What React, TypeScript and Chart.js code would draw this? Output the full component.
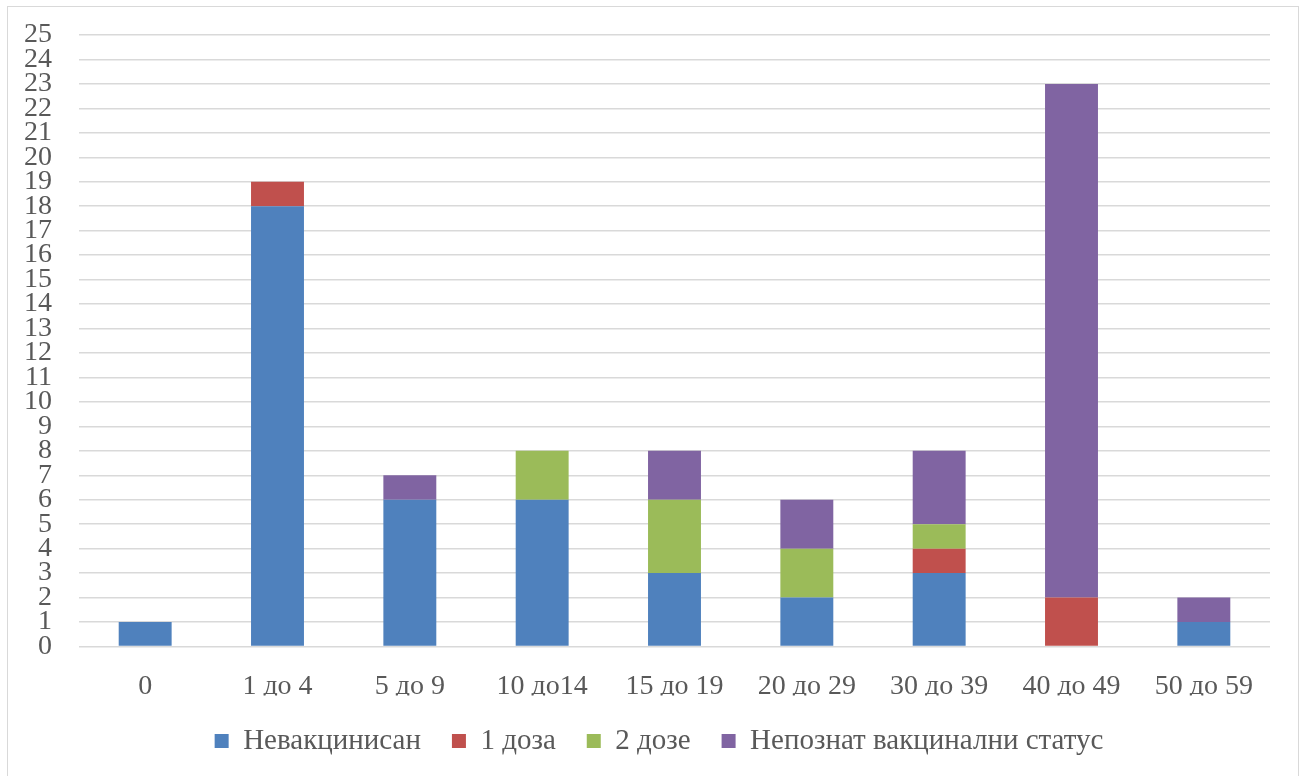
import React, { useEffect, useRef } from "react";
import { Chart, registerables } from "chart.js";

Chart.register(...registerables);

const categories = ["0", "1 до 4", "5 до 9", "10 до14", "15 до 19", "20 до 29", "30 до 39", "40 до 49", "50 до 59"];
const unvaccinated = [1, 18, 6, 6, 3, 2, 3, 0, 1];
const oneDose = [0, 1, 0, 0, 0, 0, 1, 2, 0];
const twoDoses = [0, 0, 0, 2, 3, 2, 1, 0, 0];
const unknownStatus = [0, 0, 1, 0, 2, 2, 3, 21, 1];
const seriesNames = ["Невакцинисан", "1 доза", "2 дозе", "Непознат вакцинални статус"];

const FONT = "'Liberation Serif', 'Times New Roman', serif";

const legendShift = {
  id: "legendShift",
  afterLayout(chart: any) {
    const lg = chart.legend;
    if (lg) {
      lg.left += 20;
      lg.right += 20;
    }
  },
};

export default function App() {
  const ref = useRef<HTMLCanvasElement | null>(null);
  useEffect(() => {
    if (!ref.current) return;
    const mk = (label: string, data: number[], color: string) => ({
      label,
      data,
      backgroundColor: color,
      borderWidth: 0,
      barPercentage: 0.4,
      categoryPercentage: 1,
    });
    const chart = new Chart(ref.current, {
      type: "bar",
      data: {
        labels: categories,
        datasets: [
          mk(seriesNames[0], unvaccinated, "#4F81BD"),
          mk(seriesNames[1], oneDose, "#C0504D"),
          mk(seriesNames[2], twoDoses, "#9BBB59"),
          mk(seriesNames[3], unknownStatus, "#8064A2"),
        ],
      },
      plugins: [legendShift],
      options: {
        animation: false,
        responsive: false,
        layout: { padding: { top: 28, right: 28, left: 0, bottom: 19.5 } },
        plugins: {
          tooltip: { enabled: false },
          legend: {
            position: "bottom",
            labels: {
              font: { family: FONT, size: 29 },
              color: "#595959",
              boxWidth: 14,
              boxHeight: 14,
              padding: 31,
            },
          },
        },
        scales: {
          x: {
            stacked: true,
            afterFit: (s: any) => { s.height = 49; },
            grid: { display: false },
            border: { display: false },
            ticks: { font: { family: FONT, size: 28 }, color: "#595959", padding: 15, maxRotation: 0 },
          },
          y: {
            stacked: true,
            min: 0,
            max: 25,
            afterFit: (s: any) => { s.width = 71; s.paddingTop = 0; s.paddingBottom = 0; },
            grid: { color: "#d9d9d9", lineWidth: 1.5, drawTicks: false },
            border: { display: false },
            ticks: {
              stepSize: 1,
              autoSkip: false,
              font: { family: FONT, size: 28, lineHeight: 1 },
              color: "#595959",
              padding: 27,
            },
          },
        },
      },
    });
    return () => chart.destroy();
  }, []);
  return (
    <div style={{ position: "absolute", left: 7, top: 6, width: 1292, height: 780, border: "1px solid #d9d9d9", background: "#fff", boxSizing: "border-box", overflow: "hidden" }}>
      <canvas ref={ref} width={1290} height={778} style={{ display: "block" }} />
    </div>
  );
}
